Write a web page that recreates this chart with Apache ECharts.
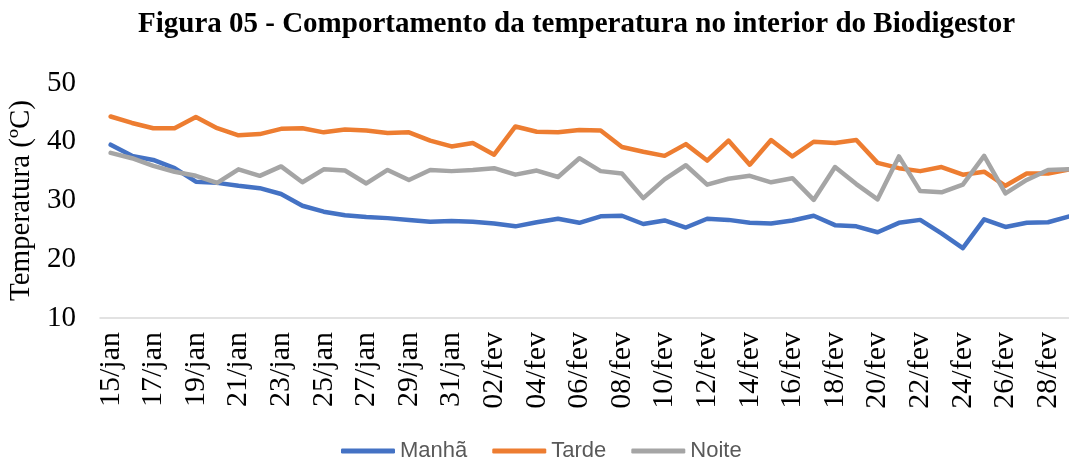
<!DOCTYPE html>
<html>
<head>
<meta charset="utf-8">
<script src="https://cdn.jsdelivr.net/npm/echarts@6/dist/echarts.min.js"></script>
<style>html,body{margin:0;padding:0;background:#fff}#c{width:1069px;height:461px}</style>
</head>
<body>
<div id="c"></div>
<script>
const categories = ["15/jan","16/jan","17/jan","18/jan","19/jan","20/jan","21/jan","22/jan","23/jan","24/jan","25/jan","26/jan","27/jan","28/jan","29/jan","30/jan","31/jan",
"01/fev","02/fev","03/fev","04/fev","05/fev","06/fev","07/fev","08/fev","09/fev","10/fev","11/fev","12/fev","13/fev","14/fev","15/fev","16/fev","17/fev","18/fev","19/fev","20/fev","21/fev","22/fev","23/fev","24/fev","25/fev","26/fev","27/fev","28/fev","29/fev"];
const manha = [39.5,37.6,36.9,35.5,33.2,33.0,32.5,32.1,31.1,29.1,28.1,27.5,27.2,27.0,26.7,26.4,26.5,26.4,26.1,25.6,26.3,26.9,26.2,27.3,27.4,26.0,26.6,25.4,26.9,26.7,26.2,26.1,26.6,27.4,25.8,25.6,24.6,26.2,26.7,24.4,21.9,26.8,25.5,26.2,26.3,27.3];
const tarde = [44.3,43.2,42.3,42.3,44.2,42.3,41.1,41.3,42.2,42.3,41.6,42.1,41.9,41.5,41.6,40.2,39.2,39.8,37.8,42.6,41.7,41.6,42.0,41.9,39.1,38.3,37.6,39.6,36.8,40.2,36.1,40.3,37.5,40.0,39.8,40.3,36.4,35.5,35.0,35.7,34.4,34.9,32.5,34.6,34.6,35.3];
const noite = [38.1,37.2,35.9,34.9,34.2,33.0,35.3,34.2,35.8,33.1,35.3,35.1,32.9,35.2,33.5,35.2,35.0,35.2,35.5,34.4,35.1,34.0,37.2,35.0,34.6,30.4,33.6,36.0,32.7,33.7,34.2,33.1,33.8,30.1,35.7,32.8,30.2,37.5,31.6,31.4,32.7,37.6,31.2,33.5,35.2,35.3];
const yTicks = [10, 50, 10];

const chart = echarts.init(document.getElementById('c'), null, {renderer: 'canvas'});
const mk = (name, data, color) => ({
  name, type: 'line', data, symbol: 'none', smooth: false,
  lineStyle: {color, width: 4.5, cap: 'round', join: 'round'},
  itemStyle: {color}
});
chart.setOption({
  animation: false,
  title: {
    text: 'Figura 05 - Comportamento da temperatura no interior do Biodigestor',
    left: 133, top: 5,
    textStyle: {fontFamily: 'Liberation Serif', fontWeight: 'bold', fontSize: 29, color: '#000'}
  },
  legend: {
    bottom: -6, left: 336, itemGap: 25, itemWidth: 54, itemHeight: 5, icon: 'roundRect',
    textStyle: {fontFamily: 'Liberation Sans', fontSize: 22, color: '#595959'},
    data: ['Manhã', 'Tarde', 'Noite']
  },
  grid: {left: 100, top: 83, width: 980, height: 235, containLabel: false, outerBoundsMode: 'none'},
  xAxis: {
    type: 'category', data: categories, boundaryGap: true,
    axisLine: {show: true, lineStyle: {color: '#d9d9d9', width: 1.5}},
    axisTick: {show: false},
    axisLabel: {interval: 1, rotate: 90, margin: 14, padding: [8, 0, 0, 0], fontFamily: 'Liberation Serif', fontSize: 30, color: '#000'}
  },
  yAxis: {
    type: 'value', min: yTicks[0], max: yTicks[1], interval: yTicks[2],
    name: 'Temperatura (ºC)', nameLocation: 'middle', nameGap: 61,
    nameTextStyle: {fontFamily: 'Liberation Serif', fontSize: 29, color: '#000'},
    axisLine: {show: false}, axisTick: {show: false}, splitLine: {show: false},
    axisLabel: {margin: 24, fontFamily: 'Liberation Serif', fontSize: 29, color: '#000'}
  },
  series: [mk('Manhã', manha, '#4472C4'), mk('Tarde', tarde, '#ED7D31'), mk('Noite', noite, '#A5A5A5')]
});
</script>
</body>
</html>
